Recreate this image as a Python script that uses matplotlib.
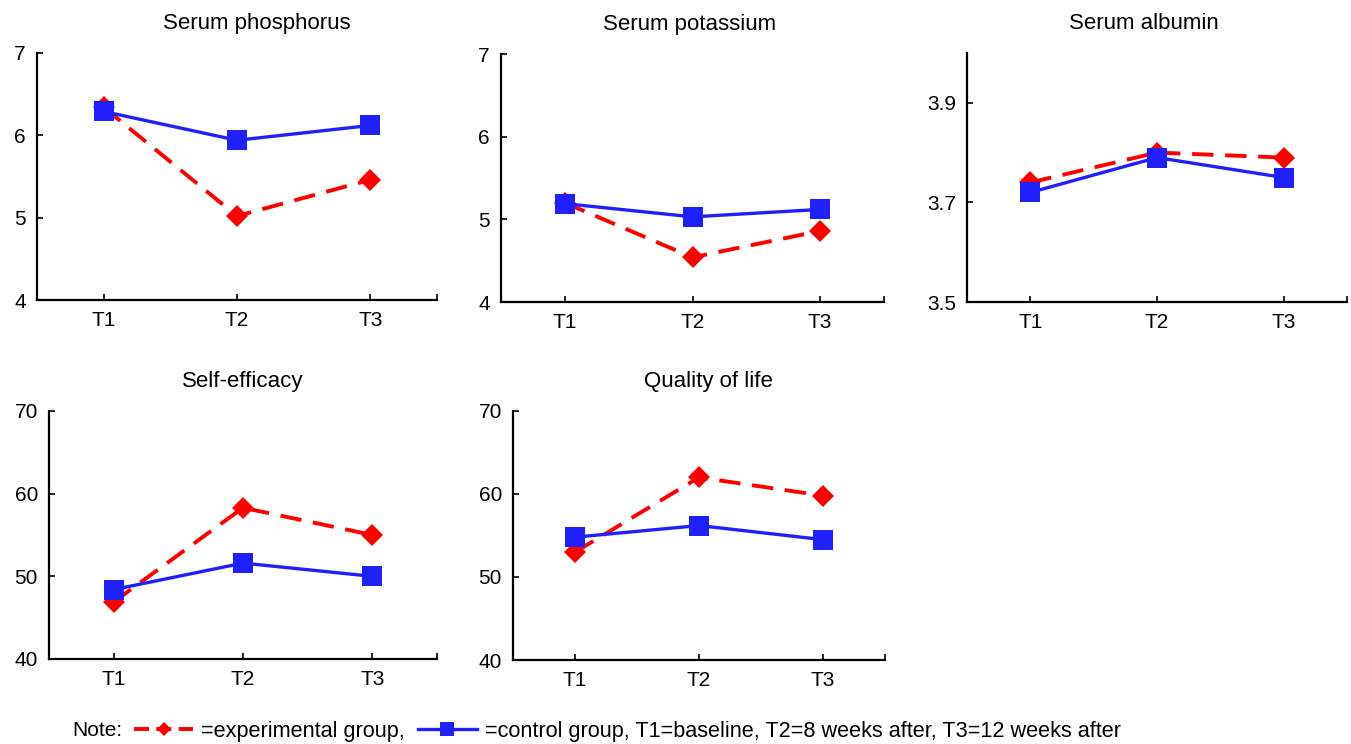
import matplotlib
matplotlib.use("Agg")
import matplotlib.pyplot as plt
from matplotlib.lines import Line2D

plt.rcParams['font.family'] = ['Liberation Sans', 'DejaVu Sans']

time_points = ["T1", "T2", "T3"]
titles = ["Serum phosphorus", "Serum potassium", "Serum albumin",
          "Self-efficacy", "Quality of life"]

phos_exp = [6.34, 5.02, 5.46]
phos_ctrl = [6.29, 5.94, 6.12]
pot_exp = [5.20, 4.54, 4.86]
pot_ctrl = [5.19, 5.03, 5.12]
alb_exp = [3.74, 3.80, 3.79]
alb_ctrl = [3.72, 3.79, 3.75]
self_exp = [46.9, 58.3, 55.0]
self_ctrl = [48.4, 51.6, 50.0]
qol_exp = [53.0, 62.0, 59.8]
qol_ctrl = [54.8, 56.2, 54.5]

ylims = [(4, 7), (4, 7), (3.5, 4.0), (40, 70), (40, 70)]
yticks = [[4, 5, 6, 7], [4, 5, 6, 7], [3.5, 3.7, 3.9], [40, 50, 60, 70], [40, 50, 60, 70]]
ytick_labels = [["4", "5", "6", "7"], ["4", "5", "6", "7"], ["3.5", "3.7", "3.9"],
                ["40", "50", "60", "70"], ["40", "50", "60", "70"]]
exp_series = [phos_exp, pot_exp, alb_exp, self_exp, qol_exp]
ctrl_series = [phos_ctrl, pot_ctrl, alb_ctrl, self_ctrl, qol_ctrl]

W, H = 1351, 744
fig = plt.figure(figsize=(W / 100, H / 100), dpi=100)

# axes boxes in pixels: (left, top, right, bottom)
boxes = [(37, 53, 437, 300), (501, 54, 884, 302), (967, 53, 1347, 302),
         (49, 411, 437, 659), (513, 411, 885, 660)]
# horizontal title offsets in pixels
title_dx = [20, -3, -13, 0, 9]

RED = "#FF0000"
BLUE = "#2020FF"
xs = [1, 2, 3]

for i, (l, t, r, b) in enumerate(boxes):
    ax = fig.add_axes([l / W, 1 - b / H, (r - l) / W, (b - t) / H])
    ax.plot(xs, exp_series[i], color=RED, lw=2.8, linestyle=(0, (5.5, 3.0)),
            marker="D", markersize=11.5, markeredgewidth=0, zorder=3, clip_on=False)
    ax.plot(xs, ctrl_series[i], color=BLUE, lw=2.4, linestyle="-",
            marker="s", markersize=15, markeredgewidth=0, zorder=4, clip_on=False)
    ax.set_xlim(0.5, 3.5)
    ax.set_ylim(*ylims[i])
    ax.set_xticks([1, 2, 3, 3.5])
    ax.set_xticklabels(time_points + [""])
    ax.set_yticks(yticks[i])
    ax.set_yticklabels(ytick_labels[i])
    for side in ("top", "right"):
        ax.spines[side].set_visible(False)
    for side in ("left", "bottom"):
        ax.spines[side].set_linewidth(1.6)
    ax.tick_params(axis="both", direction="in", length=4.5, width=1.2,
                   labelsize=15, pad=8)
    ax.set_title(titles[i], fontsize=16, pad=17,
                 x=0.5 + title_dx[i] / (r - l))

# Note / legend line
fig.text(72 / W, 1 - 731 / H, "Note:", fontsize=15, va="center", ha="left")
h_exp = Line2D([], [], color=RED, lw=2.8, linestyle=(0, (3.86, 1.88)),
               marker="D", markersize=6.8, markeredgewidth=0)
h_ctrl = Line2D([], [], color=BLUE, lw=2.4, linestyle="-",
                marker="s", markersize=9.5, markeredgewidth=0)
fs_leg = 15.6
fig.legend([h_exp, h_ctrl],
           ["=experimental group,",
            "=control group, T1=baseline, T2=8 weeks after, T3=12 weeks after"],
           loc="center left", bbox_to_anchor=(134 / W, 1 - 731 / H),
           ncol=2, frameon=False, fontsize=fs_leg,
           handlelength=59 / (fs_leg * 100 / 72),
           handletextpad=0.38, columnspacing=0.6, borderpad=0, borderaxespad=0)

fig.savefig("out.png", dpi=100)
